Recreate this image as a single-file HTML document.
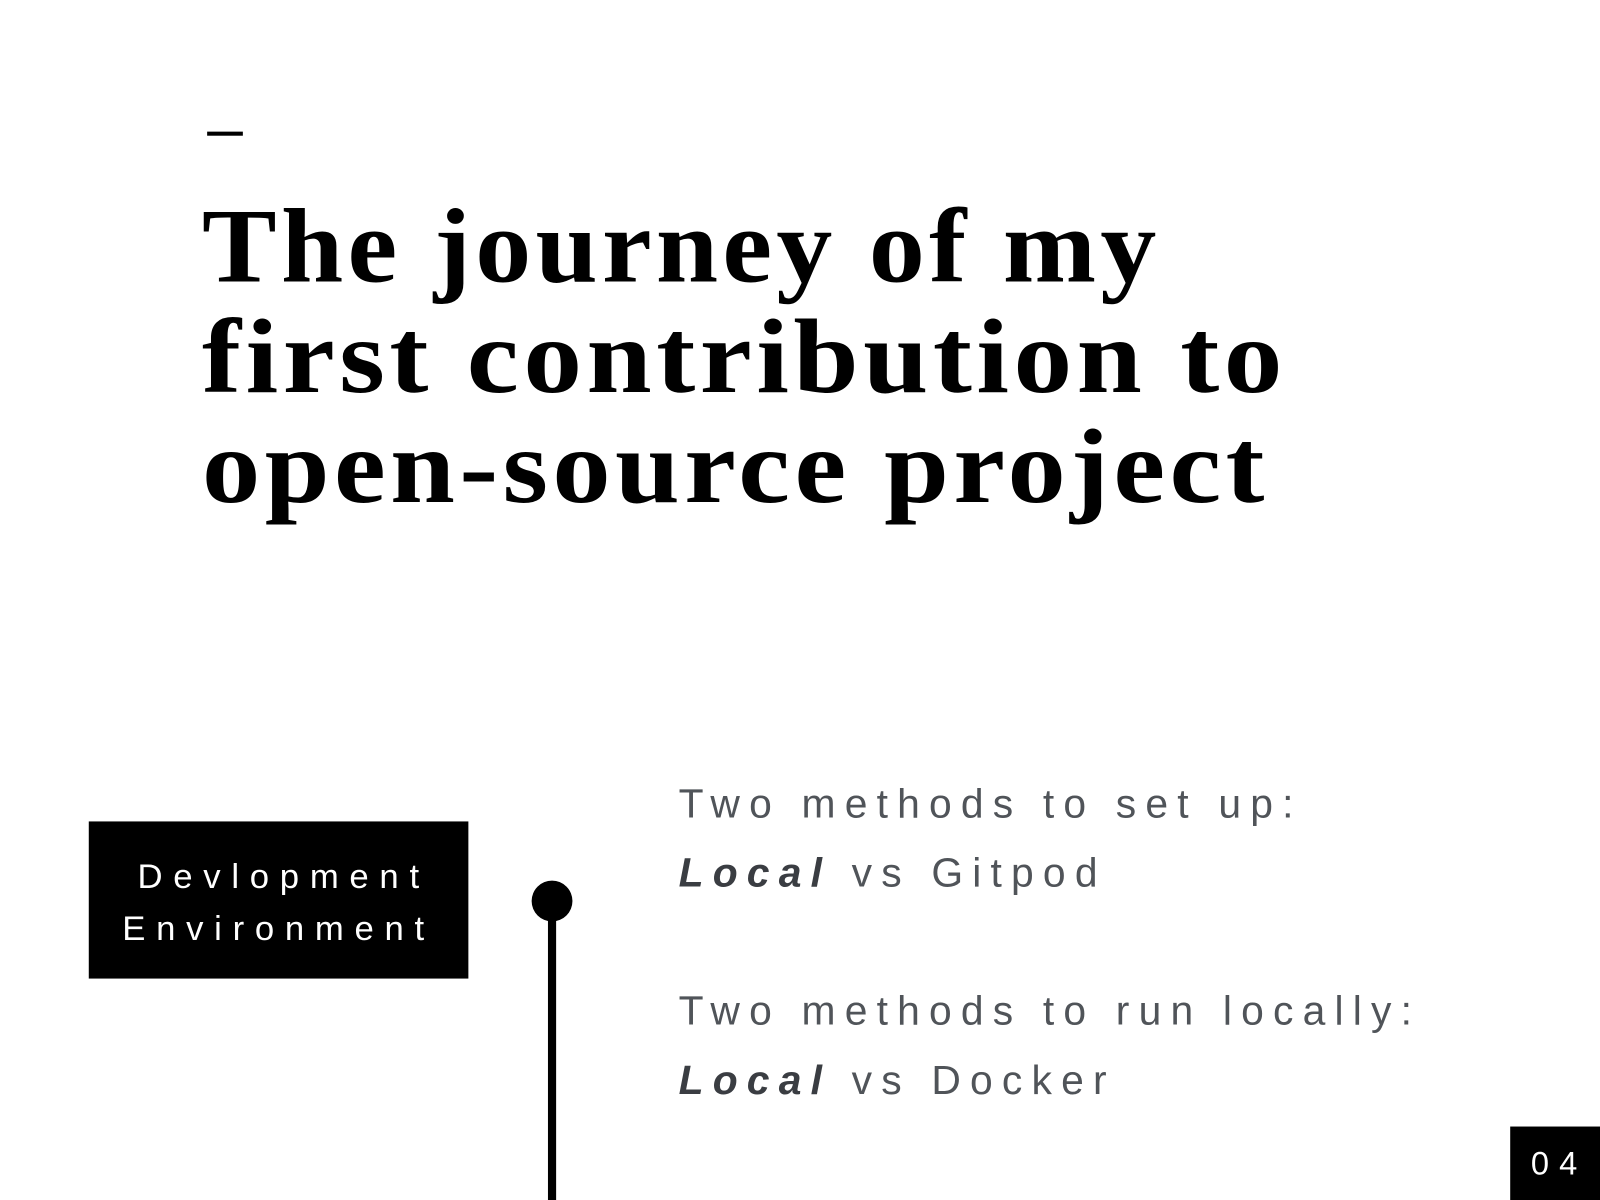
<!DOCTYPE html>
<html><head><style>
html,body{margin:0;padding:0;background:#fff;overflow:hidden;width:1600px;height:1200px}
#s{position:absolute;left:0;top:0;width:1568px;height:1176px;transform:scale(1.02041);transform-origin:0 0;font-family:"Liberation Sans",sans-serif}
.t{position:absolute;left:198px;font-family:"Liberation Serif",serif;font-weight:bold;font-size:104px;letter-spacing:4px;color:#000;white-space:nowrap;line-height:1;transform-origin:0 0}
.r{position:absolute;left:665px;font-size:40px;letter-spacing:9px;color:#505459;white-space:nowrap;line-height:1}
.r b{font-style:italic;color:#3a3d42}
</style></head><body><div id="s">
<div style="position:absolute;left:203px;top:129px;width:35px;height:4px;background:#000"></div>
<div class="t" style="top:190px;transform:scaleX(1.054)">The journey of my</div>
<div class="t" style="top:298px;transform:scaleX(1.105)">first contribution to</div>
<div class="t" style="top:406px;transform:scaleX(1.097)">open-source project</div>
<div style="position:absolute;left:87px;top:805px;width:372px;height:154px;background:#000;color:#fff;font-size:34px;letter-spacing:10.5px;text-indent:10px;text-align:center;line-height:51px;padding-top:29px;box-sizing:border-box">Devlopment<br>Environment</div>
<div style="position:absolute;left:521px;top:863px;width:40px;height:40px;border-radius:50%;background:#000"></div>
<div style="position:absolute;left:537px;top:883px;width:8px;height:293px;background:#000"></div>
<div class="r" style="top:768px">Two methods to set up:</div>
<div class="r" style="top:836px"><b>Local</b> vs Gitpod</div>
<div class="r" style="top:971px">Two methods to run locally:</div>
<div class="r" style="top:1039px"><b>Local</b> vs Docker</div>
<div style="position:absolute;left:1480px;top:1104px;width:88px;height:72px;background:#000;color:#fff;font-size:32px;letter-spacing:10px;text-indent:8px;line-height:72px;text-align:center">04</div>
</div></body></html>
